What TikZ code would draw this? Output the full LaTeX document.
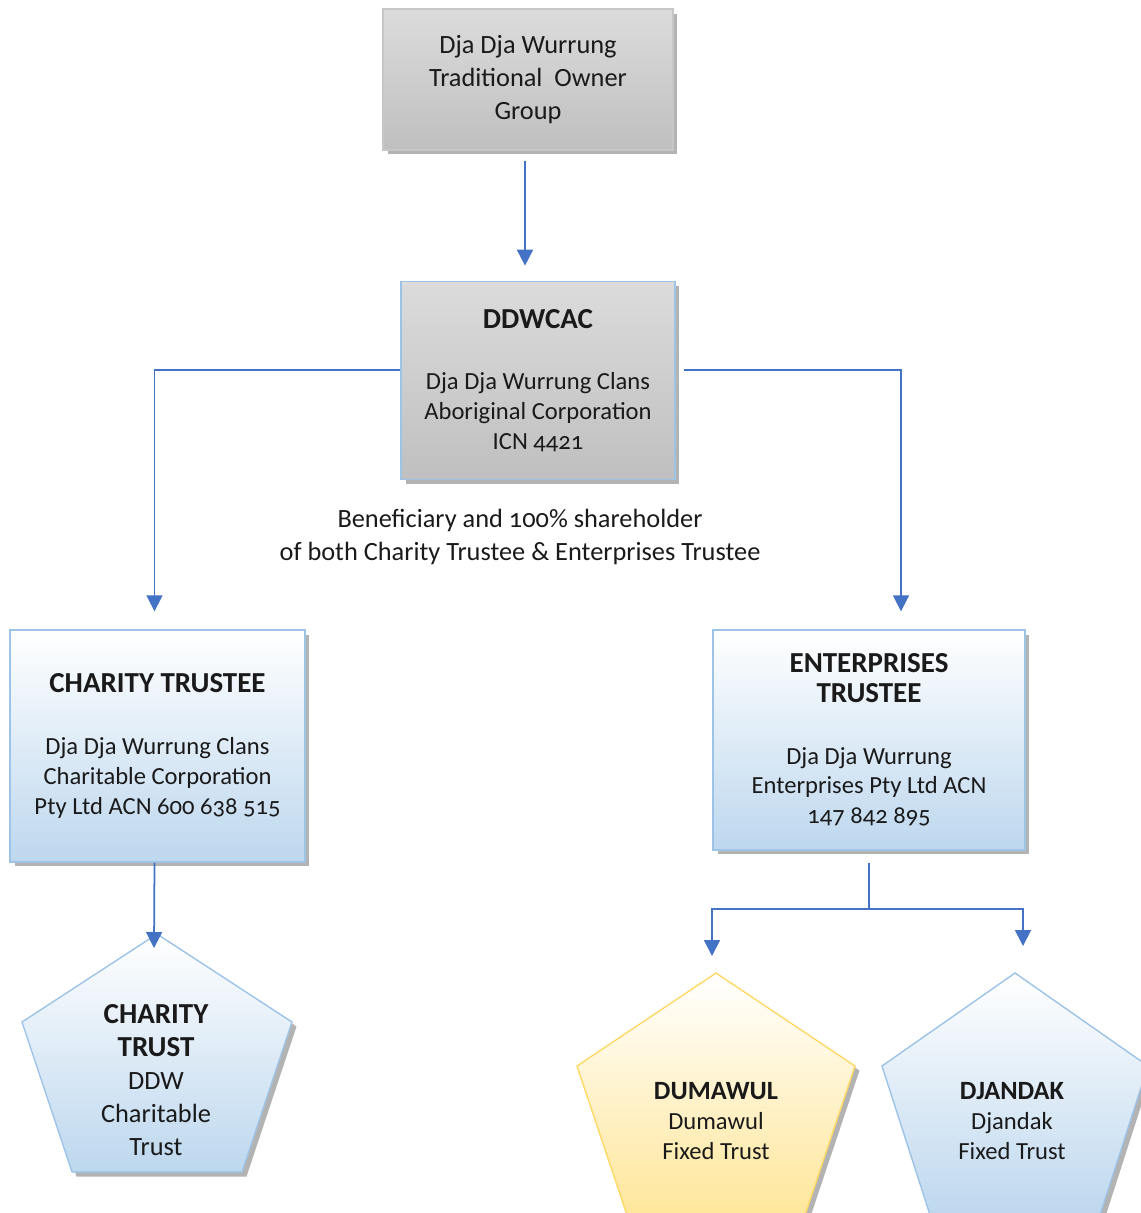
\documentclass[tikz,border=0pt]{standalone}
\usepackage{fontspec}
\setmainfont{Carlito}[Numbers=OldStyle]
\usetikzlibrary{positioning,calc,shadows,arrows.meta}

\definecolor{arrowblue}{HTML}{4472C4}
\definecolor{edgeblue}{HTML}{9DC3E6}
\definecolor{fillblue}{HTML}{BDD7EE}
\definecolor{edgegold}{HTML}{FFD966}
\definecolor{fillgold}{HTML}{FFE699}
\definecolor{inkgrey}{HTML}{1A1A1A}

\newcommand{\headfont}{\fontsize{16.5}{18}\selectfont\bfseries}
\newcommand{\smallhead}{\fontsize{15}{17}\selectfont\bfseries}

\tikzset{
  boxshadow/.style={drop shadow={shadow xshift=0.09cm, shadow yshift=-0.09cm, fill=black!50, opacity=0.6}},
  box/.style={boxshadow, draw=edgeblue, line width=0.8pt, align=center, text=inkgrey, inner sep=0pt,
    font=\fontsize{14}{17}\selectfont},
  greybox/.style={box, top color=black!14, bottom color=black!25},
  bluebox/.style={box, top color=white, bottom color=fillblue},
  pentblue/.style={boxshadow, draw=edgeblue, line width=0.8pt, top color=white, bottom color=fillblue},
  pentgold/.style={boxshadow, draw=edgegold, line width=0.8pt, top color=white, bottom color=fillgold},
  pentext/.style={align=center, text=inkgrey, font=\fontsize{15}{18.7}\selectfont},
  conn/.style={draw=arrowblue, line width=1pt},
  arr/.style={conn, -{Triangle[width=0.32cm, length=0.32cm]}},
}

\begin{document}
\begin{tikzpicture}[x=0.02cm, y=-0.02cm]
	\useasboundingbox (0,0) rectangle (1141,1213);
	\clip (0,0) rectangle (1141,1213);

	% boxes
	\node[greybox, draw=black!22, minimum width=5.8cm, minimum height=2.82cm, font=\fontsize{15}{18.7}\selectfont] (owners) at (528,79.5) {Dja Dja Wurrung\\Traditional\ \ Owner\\Group};
	\node[greybox, below=2.6cm of owners, xshift=0.2cm, minimum width=5.48cm, minimum height=3.96cm] (ddwcac) {{\headfont DDWCAC}\\[18pt]Dja Dja Wurrung Clans\\Aboriginal Corporation\\ICN 4421};
	\node[bluebox, minimum width=5.9cm, minimum height=4.64cm] (ctrustee) at (157.5,746) {{\headfont CHARITY TRUSTEE}\\[18pt]Dja Dja Wurrung Clans\\Charitable Corporation\\Pty Ltd ACN 600 638 515};
	\node[bluebox, minimum width=6.24cm, minimum height=4.4cm] (etrustee) at (869,740) {{\headfont ENTERPRISES}\\{\headfont TRUSTEE}\\[18pt]Dja Dja Wurrung\\Enterprises Pty Ltd ACN\\147 842 895};
	\node[align=center, text=inkgrey, font=\fontsize{15}{18.7}\selectfont] (benef) at (520,537) {Beneficiary and 100\% shareholder\\of both Charity Trustee \& Enterprises Trustee};

	% trusts
	\coordinate (ct-top) at (157,934);
	\coordinate (dm-top) at (716,973);
	\coordinate (dj-top) at (1015,973);
	\draw[pentblue] (ct-top) -- ++(-135,88) -- ++(50,150) -- ++(170,0) -- ++(50,-150) -- cycle;
	\draw[pentgold] (dm-top) -- ++(-139,93) -- ++(51,152) -- ++(176,0) -- ++(51,-152) -- cycle;
	\draw[pentblue] (dj-top) -- ++(-133,93) -- ++(49,152) -- ++(168,0) -- ++(49,-152) -- cycle;
	\node[pentext] (ctrust) at (156,1080) {{\headfont CHARITY}\\{\headfont TRUST}\\DDW\\Charitable\\Trust};
	\node[pentext, font=\fontsize{14}{17}\selectfont] (dumawul) at (716,1121) {{\smallhead DUMAWUL}\\Dumawul\\Fixed Trust};
	\node[pentext, font=\fontsize{14}{17}\selectfont] (djandak) at (1012,1121) {{\smallhead DJANDAK}\\Djandak\\Fixed Trust};

	% connectors
	\draw[arr] ($(owners.south)+(-3,10)$) -- ($(owners.south |- ddwcac.north)+(-3,-15)$);
	\draw[arr] ($(ddwcac.west)+(0,-10)$) -| ($(ctrustee.north)+(-3,-18)$);
	\draw[arr] ($(ddwcac.east)+(8,-10)$) -| ($(etrustee.north)+(32,-18)$);
	\draw[arr] ($(ctrustee.south)+(-3,0)$) -- ($(ct-top)+(-3,14)$);
	\coordinate (split) at ($(etrustee.south)+(0,58)$);
	\draw[conn] ($(etrustee.south)+(0,12)$) -- (split);
	\draw[arr] (split) -| ($(dm-top)+(-4,-17)$);
	\draw[arr] (split) -| ($(dj-top)+(8,-27)$);
\end{tikzpicture}
\end{document}
